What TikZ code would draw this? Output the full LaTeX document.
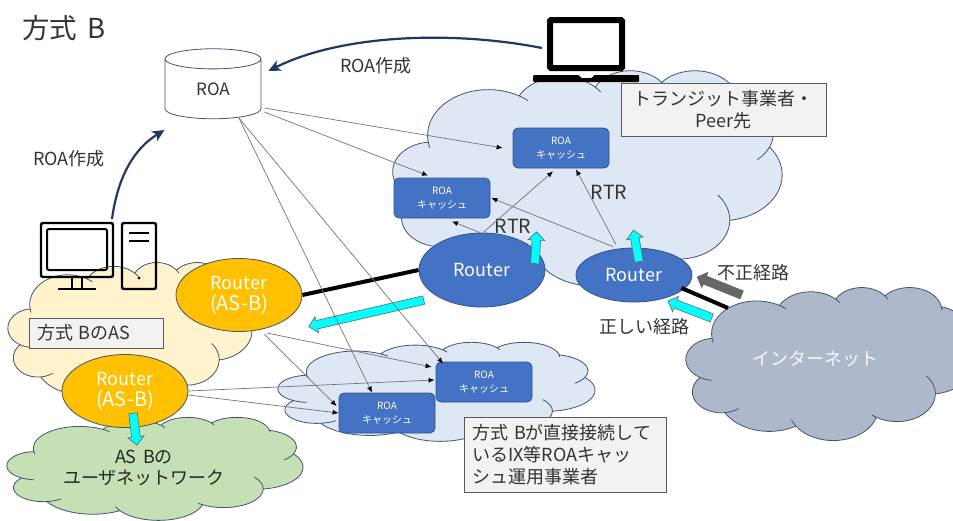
\documentclass[tikz,border=0pt]{standalone}
\usepackage{fontspec}
\setmainfont[WordSpace=1.6]{Noto Sans CJK JP}
\usetikzlibrary{arrows.meta,shapes.geometric,shapes.arrows}

\definecolor{cloudblue}{HTML}{DEE8F5}
\definecolor{cloudyellow}{HTML}{FFF2CC}
\definecolor{cloudgreen}{HTML}{C5E0B4}
\definecolor{cloudgray}{HTML}{ADB9CA}
\definecolor{edgeslate}{HTML}{44546A}
\definecolor{nodeblue}{HTML}{4472C4}
\definecolor{edgeblue}{HTML}{2F528F}
\definecolor{nodeorange}{HTML}{FFC000}
\definecolor{boxgray}{HTML}{F2F2F2}
\definecolor{navyline}{HTML}{1F3864}
\definecolor{textdark}{HTML}{333333}
\definecolor{blockcyan}{HTML}{00FFFF}

\pgfmathdeclarefunction{cloudang}{3}{\pgfmathparse{atan2(#2*sin(#1),#3*cos(#1))}}
\pgfmathdeclarefunction{clouddelta}{4}{\pgfmathparse{mod(cloudang(#1+#2,#3,#4)-cloudang(#1,#3,#4)+720,360)}}
\newcommand{\cloudarcs}{%
  -190.4875/123.7805/67.53/91.90/8/10,
  -144.1024/89.9452/53.33/72.67/0/10,
  -145.8079/99.7230/43.65/59.45/0/10,
  -130.9861/117.2417/48.57/65.95/0/8,
  -78.7089/109.0269/53.33/72.73/0/25,
  -46.2673/130.2690/67.75/92.20/0/0,
  0.6250/114.0333/57.85/78.67/40/8,
  22.4516/115.1726/67.52/92.15/0/12,
  66.2426/75.7110/77.20/105.43/0/0,
  -274.9421/146.7356/43.60/59.18/30/0,
  -246.8285/152.5189/43.45/59.45/25/0}
% left, top, width, height
\newcommand{\cloudshape}[5][]{%
  \begin{scope}[shift={(#2,#3)},x=#4pt/432,y=-#5pt/432]
    \fill[#1] (39,143.7) foreach \st/\sw/\wr/\hr/\bk/\fw in \cloudarcs {
      arc[x radius=\wr,y radius=\hr,start angle={cloudang(\st,\wr,\hr)},delta angle={clouddelta(\st,\sw,\wr,\hr)}]
    } -- cycle;
    \draw[edgeslate,line width=0.8pt] (39,143.7) foreach \st/\sw/\wr/\hr/\bk/\fw in \cloudarcs {
      arc[x radius=\wr,y radius=\hr,start angle={cloudang(\st,\wr,\hr)},delta angle=-\bk]
      arc[x radius=\wr,y radius=\hr,start angle={cloudang(\st,\wr,\hr)-\bk},delta angle=\bk]
      arc[x radius=\wr,y radius=\hr,start angle={cloudang(\st,\wr,\hr)},delta angle={clouddelta(\st,\sw,\wr,\hr)}]
      arc[x radius=\wr,y radius=\hr,start angle={cloudang(\st+\sw,\wr,\hr)},delta angle=\fw]
      arc[x radius=\wr,y radius=\hr,start angle={cloudang(\st+\sw,\wr,\hr)+\fw},delta angle=-\fw]
    };
  \end{scope}}

\tikzset{
  routerblue/.style={ellipse,draw=edgeblue,fill=nodeblue,line width=0.8pt,inner sep=0pt,text=white,
    font=\fontsize{18pt}{21pt}\selectfont},
  routeras/.style={ellipse,draw=edgeslate,fill=nodeorange,line width=0.8pt,minimum width=126,minimum height=73,
    inner sep=0pt,text=white,align=center,font=\fontsize{18pt}{21pt}\selectfont},
  roacache/.style={rounded corners=5pt,draw=edgeblue,fill=nodeblue,line width=0.8pt,minimum width=96,minimum height=40,
    inner sep=0pt,text=white,align=center,font=\fontsize{10pt}{14pt}\selectfont},
  notebox/.style={draw=black!65,fill=boxgray,line width=0.9pt,inner sep=0pt,text=textdark},
  plainlabel/.style={inner sep=0pt,text=textdark,font=\fontsize{17pt}{21pt}\selectfont},
  blockarrow/.style={single arrow,draw=black!60,line width=0.6pt,fill=blockcyan,minimum width=16,inner xsep=0pt,inner ysep=4pt,
    single arrow head extend=4,anchor=tail},
  thinarrow/.style={draw=black!55,line width=0.7pt,-{Latex[black,length=6pt,width=5pt]}},
  roaarrow/.style={draw=navyline,line width=2.2pt,-{Stealth[length=12pt,width=11pt,inset=3pt]}},
  iconline/.style={draw=black,line width=2.4pt,rounded corners=2pt},
}

\begin{document}
\begin{tikzpicture}[x=1pt,y=-1pt]
  \useasboundingbox (0,0) rectangle (953,520);

  \cloudshape[fill=cloudblue]{393}{70}{389}{215}
  \cloudshape[fill=cloudyellow]{8}{262}{244}{140}
  \cloudshape[fill=cloudgreen]{7}{417}{296}{103}
  \cloudshape[fill=cloudblue]{278}{342}{317}{99}
  \cloudshape[fill=cloudgray]{686}{287}{288}{153}

  \node[anchor=west,inner sep=0pt,text=textdark,font=\fontsize{27.5pt}{30pt}\selectfont] (title) at (22,28) {方式 B};

  % computer on the left
  \draw[iconline] (41,223) rectangle (113,277);
  \draw[iconline,line width=2pt] (47,229) rectangle (107,270);
  \draw[black,line width=2.2pt] (72,277) -- (72,289) (82,277) -- (82,289) (58,289) -- (96,289);
  \draw[iconline] (122,223) rectangle (156,289);
  \draw[black,line width=2pt] (129,233) -- (149,233) (129,241) -- (149,241);
  \fill[black] (139,278) circle[radius=1.6];

  % laptop on top
  \draw[black,fill=white,line width=6pt,rounded corners=1pt] (550,20) rectangle (622,68);
  \fill[black,rounded corners=1pt] (533,75) -- (579,75) -- (581,78) -- (592,78) -- (594,75) -- (639,75) -- (639,82) -- (533,82) -- cycle;

  \node[cylinder,shape border rotate=90,aspect=0.6,draw=edgeslate,fill=white,line width=0.8pt,minimum width=96,minimum height=70,
    inner sep=0pt,text=textdark,font=\fontsize{17pt}{20pt}\selectfont] (roa) at (213,89) {\raisebox{-5pt}{ROA}};
  \coordinate (laptop) at (542,48);
  \coordinate (computer) at (112,219);
  \draw[roaarrow] (laptop) .. controls (450,30) and (340,35) .. ([shift={(7,-18)}]roa.east);
  \draw[roaarrow] (computer) .. controls (118,175) and (135,148) .. ([shift={(0,41)}]roa.west);
  \node[plainlabel,font=\fontsize{18pt}{21pt}\selectfont] (roalabela) at (376,66) {ROA作成};
  \node[plainlabel,font=\fontsize{18pt}{21pt}\selectfont] (roalabelb) at (69,159) {ROA作成};

  \node[roacache] (cachea) at (561,148) {ROA\\キャッシュ};
  \node[roacache] (cacheb) at (442,198) {ROA\\キャッシュ};
  \node[roacache] (cachec) at (387,413) {ROA\\キャッシュ};
  \node[roacache] (cached) at (484,382) {ROA\\キャッシュ};

  \node[routerblue,minimum width=126,minimum height=74] (routera) at (482,270) {Router};
  \node[routerblue,minimum width=116,minimum height=54] (routerb) at (634,275) {Router};
  \node[routeras] (asba) at (239,295) {Router\\{\fontsize{20pt}{21pt}\selectfont (AS-B)}};
  \node[routeras] (asbb) at (125,391) {Router\\{\fontsize{20pt}{21pt}\selectfont (AS-B)}};

  \node[notebox,minimum width=205,minimum height=53,align=center,font=\fontsize{18pt}{22pt}\selectfont] (transit) at (723.5,109.5) {トランジット事業者・\\Peer先};
  \node[notebox,minimum width=134,minimum height=30,text width=118,align=left,font=\fontsize{18pt}{20pt}\selectfont] (asbox) at (96,333) {方式 BのAS};
  \node[notebox,minimum width=202,minimum height=75,text width=186,align=left,font=\fontsize{18pt}{22pt}\selectfont] (ixbox) at (565,454.5) {方式 Bが直接接続して\\いるIX等ROAキャッ\\シュ運用事業者};

  \node[plainlabel,font=\fontsize{19.5pt}{22pt}\selectfont] (rtra) at (609,192) {RTR};
  \node[plainlabel,font=\fontsize{19.5pt}{22pt}\selectfont] (rtrb) at (513,226) {RTR};
  \node[plainlabel,font=\fontsize{18pt}{22pt}\selectfont] (badroute) at (753,273) {不正経路};
  \node[plainlabel,font=\fontsize{18pt}{22pt}\selectfont] (goodroute) at (644,327) {正しい経路};
  \node[plainlabel,text=white!90!cloudgray,font=\fontsize{18pt}{22pt}\selectfont] (inet) at (815,359) {インターネット};
  \node[plainlabel,align=center,text=black!85,font=\fontsize{18pt}{21pt}\selectfont] (usernet) at (144,468) {AS Bの\\ユーザネットワーク};

  \draw[black,line width=4pt] (asba.east) -- (routera.west);
  \draw[black,line width=4pt] ([shift={(-11,13)}]routerb.east) -- ([shift={(-87,-51)}]inet.center);

  \node[blockarrow,minimum height=32,rotate=87] (arrowa) at (535,264) {};
  \node[blockarrow,minimum height=32,rotate=100] (arrowb) at (639,262) {};
  \node[blockarrow,minimum height=118,rotate=193] (arrowc) at (424,300) {};
  \node[blockarrow,minimum height=32,rotate=-83] (arrowd) at (133,413) {};
  \node[blockarrow,minimum height=47,rotate=159] (arrowe) at (712,318) {};
  \node[blockarrow,fill=black!60,minimum height=48,rotate=158] (arrowf) at (742,295) {};

  \draw[thinarrow] ([shift={(3,19)}]roa.east) -- ([shift={(-10,0)}]cachea.west);
  \draw[thinarrow] ([shift={(3,23)}]roa.east) -- ([shift={(-14,-2)}]cacheb.north);
  \draw[thinarrow] ([shift={(26,-1)}]roa.south) -- ([shift={(-41,2)}]cached.north);
  \draw[thinarrow] ([shift={(26,-1)}]roa.south) -- ([shift={(-15,0)}]cachec.north);
  \draw[thinarrow] ([shift={(1,0)}]routera.north) -- ([shift={(-8,3)}]cachea.south);
  \draw[thinarrow] ([shift={(-2,0)}]routera.north) -- ([shift={(10,3)}]cacheb.south);
  \draw[thinarrow] ([shift={(-18,-3)}]routerb.north) -- ([shift={(15,1)}]cachea.south);
  \draw[thinarrow] ([shift={(-21,-1)}]routerb.north) -- ([shift={(1,0)}]cacheb.east);
  \draw[thinarrow] ([shift={(28,38)}]asba.center) -- ([shift={(-4,-15)}]cached.west);
  \draw[thinarrow] ([shift={(25,39)}]asba.center) -- ([shift={(-2,-7)}]cachec.west);
  \draw[thinarrow] (asbb.east) -- ([shift={(-1,-2)}]cached.west);
  \draw[thinarrow] ([shift={(0,4)}]asbb.east) -- (cachec.west);
\end{tikzpicture}
\end{document}
